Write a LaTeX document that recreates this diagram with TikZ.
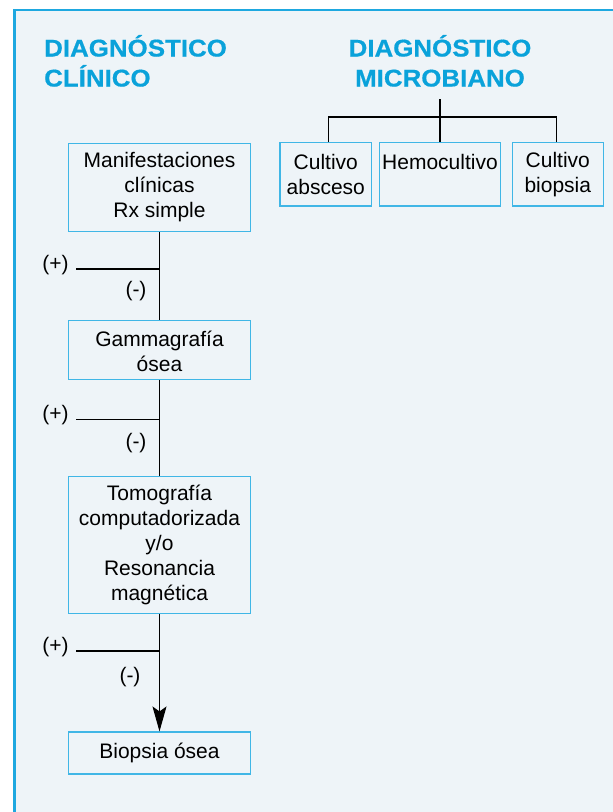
\documentclass[tikz,border=0pt]{standalone}
\usepackage{fontspec}
\setmainfont{Liberation Sans}
\newfontfamily\headfont[FakeStretch=1.07,FakeBold=0.6]{Liberation Sans Bold}
\usetikzlibrary{arrows.meta}
\definecolor{bgc}{HTML}{EEF4F8}
\definecolor{framec}{HTML}{1EA8E0}
\definecolor{headc}{HTML}{0AA2DA}
\definecolor{boxc}{HTML}{40B6E6}
\begin{document}
\begin{tikzpicture}[x=1pt,y=-1pt,
  box/.style={draw=boxc, line width=1.4pt, inner sep=0pt, align=center,
    font=\fontsize{21}{25}\selectfont},
  conn/.style={draw=black, line width=1.2pt},
  lbl/.style={font=\fontsize{21}{25}\selectfont, inner sep=0pt},
  headtxt/.style={text=headc, font=\headfont\fontsize{24.2}{30}\selectfont, inner sep=0pt}]
\useasboundingbox (0,0) rectangle (613,812);
\fill[bgc] (14.5,10) rectangle (613,812);
\draw[framec, line width=2.5pt] (14.5,812) -- (14.5,10) -- (613,10);

% headings
\node[headtxt, anchor=base west] (h1a) at (44,56.5) {DIAGNÓSTICO};
\node[headtxt, anchor=base west] (h1b) at (44,86.5) {CLÍNICO};
\node[headtxt, anchor=base] (h2a) at (440,56.5) {DIAGNÓSTICO};
\node[headtxt, anchor=base] (h2b) at (440,86.5) {MICROBIANO};

% microbiological boxes
\node[box, minimum width=91.7pt, minimum height=63.3pt] (ca) at (325.8,174.4) {Cultivo\\absceso};
\node[box, minimum width=120.6pt, minimum height=63.3pt] (hemo) at (440,174.4) {Hemocultivo\\\phantom{absceso}};
\node[box, minimum width=91pt, minimum height=63.3pt] (cb) at (557.8,174.4) {Cultivo\\biopsia};
\coordinate (t0) at (440,99);
\coordinate (t1) at (440,117);
\draw[conn] (t0) -- (hemo.north);
\draw[conn] ([xshift=3pt]ca.north) |- (t1) -| ([xshift=-1.5pt]cb.north);

% clinical chain
\node[box, minimum width=182pt, minimum height=88pt] (b1) at (159.5,187.3) {Manifestaciones\\clínicas\\Rx simple};
\node[box, minimum width=182pt, minimum height=58.6pt] (b2) at (159.5,350) {\rule{0pt}{18pt}Gammagrafía\\ósea};
\node[box, minimum width=182pt, minimum height=137pt] (b3) at (159.5,545) {Tomografía\\computadorizada\\y/o\\Resonancia\\magnética};
\node[box, minimum width=182pt, minimum height=41.7pt] (b4) at (159.5,753) {Biopsia ósea};

\draw[conn] (b1) -- (b2);
\draw[conn] (b2) -- (b3);
\draw[conn, -{Stealth[length=25pt,width=14pt,inset=5pt]}] (b3) -- (b4);

\coordinate (p1) at (159.5,269);   \coordinate (e1) at (76,269);
\coordinate (p2) at (159.5,419.3); \coordinate (e2) at (76,419.3);
\coordinate (p3) at (159.5,651);   \coordinate (e3) at (76,651);
\draw[conn] (p1) -- (e1);
\draw[conn] (p2) -- (e2);
\draw[conn] (p3) -- (e3);

\node[lbl] (plus1) at (55.5,265) {(+)};
\node[lbl] (minus1) at (136,291) {(-)};
\node[lbl] (plus2) at (55.5,415.5) {(+)};
\node[lbl] (minus2) at (136,442.7) {(-)};
\node[lbl] (plus3) at (55.5,647) {(+)};
\node[lbl] (minus3) at (130,676.7) {(-)};
\end{tikzpicture}
\end{document}
